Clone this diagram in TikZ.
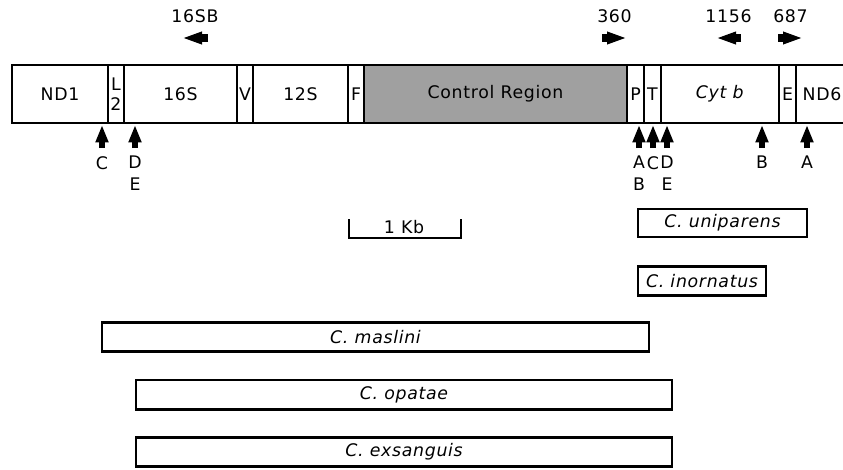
\documentclass[tikz,border=0pt]{standalone}
\usepackage{fontspec}
\setmainfont[LetterSpace=4]{DejaVu Sans}
\usepackage{tikz}
\usetikzlibrary{arrows.meta}
\definecolor{ctrlgray}{RGB}{160,160,160}

\begin{document}
\begin{tikzpicture}[x=0.75pt, y=-0.75pt,
    every node/.style={font=\fontsize{13}{15}\selectfont},
    seg/.style={draw, line width=1.6pt, minimum height=43.5pt, inner sep=0pt, align=center},
    taxon/.style={draw, line width=2pt, minimum height=22pt, inner sep=0pt,
                  font=\fontsize{13}{15}\selectfont\itshape},
    primer/.style={line width=6pt, -{Triangle[length=15pt, width=8.5pt]}},
    site/.style={line width=5pt, -{Triangle[length=13pt, width=9pt]}},
    sitelbl/.style={anchor=north, align=center, inner sep=0pt,
                    font=\fontsize{13}{16.5}\selectfont}]
    \clip (0,0) rectangle (843,469);

    % Gene map (left end / right end / name / text)
    \node[seg, fill=ctrlgray, minimum width={263*0.75pt}] (ctrl) at (495.5,94) {Control Region};
    \foreach \xa/\xb/\nm/\txt in {12/108/nd1/ND1, 108/124/ltwo/{L\\2}, 124/237/ssixteen/16S,
        237/253/val/V, 253/348/stwelve/12S, 348/364/phe/F, 627/644/pro/P, 644/661/thr/T,
        661/779/cytb/{\textit{Cyt b}}, 779/796/glu/E, 796/848/ndsix/ND6} {
        \node[seg, minimum width={(\xb-\xa)*0.75pt}] (\nm) at ({(\xa+\xb)/2},94) {\txt};
    }

    % Primers
    \foreach \tail/\tip/\nm/\txt in {208/182/p16sb/16SB, 602/627/p360/360,
        741/716/p1156/1156, 778/803/p687/687} {
        \draw[primer] (\tail,38) -- (\tip,38);
        \node (\nm) at ({(\tail+\tip)/2},16) {\txt};
    }

    % Restriction sites
    \foreach \sx/\txt [count=\k] in {102/C, 135/{D\\E}, 639/{A\\B}, 653/C,
        667/{D\\E}, 762/B, 807/A} {
        \draw[site] (\sx,148) -- (\sx,125);
        \node[sitelbl] (site\k) at (\sx,156) {\txt};
    }

    % Scale bar
    \draw[line width=1.6pt] (349,219) -- (349,238) -- (461,238) -- (461,219);
    \node (kb) at (404,227) {1 Kb};

    % Sequenced regions per species
    \node[taxon, minimum width={169*0.75pt}, minimum height=21pt] (uniparens) at (722.5,223) {C. uniparens};
    \node[taxon, minimum width={128*0.75pt}] (inornatus) at (702,281) {C. inornatus};
    \node[taxon, minimum width={547*0.75pt}] (maslini) at (375.5,337) {C. maslini};
    \node[taxon, minimum width={536*0.75pt}] (opatae) at (404,394.5) {C. opatae};
    \node[taxon, minimum width={536*0.75pt}] (exsanguis) at (404,452) {C. exsanguis};

\end{tikzpicture}
\end{document}
